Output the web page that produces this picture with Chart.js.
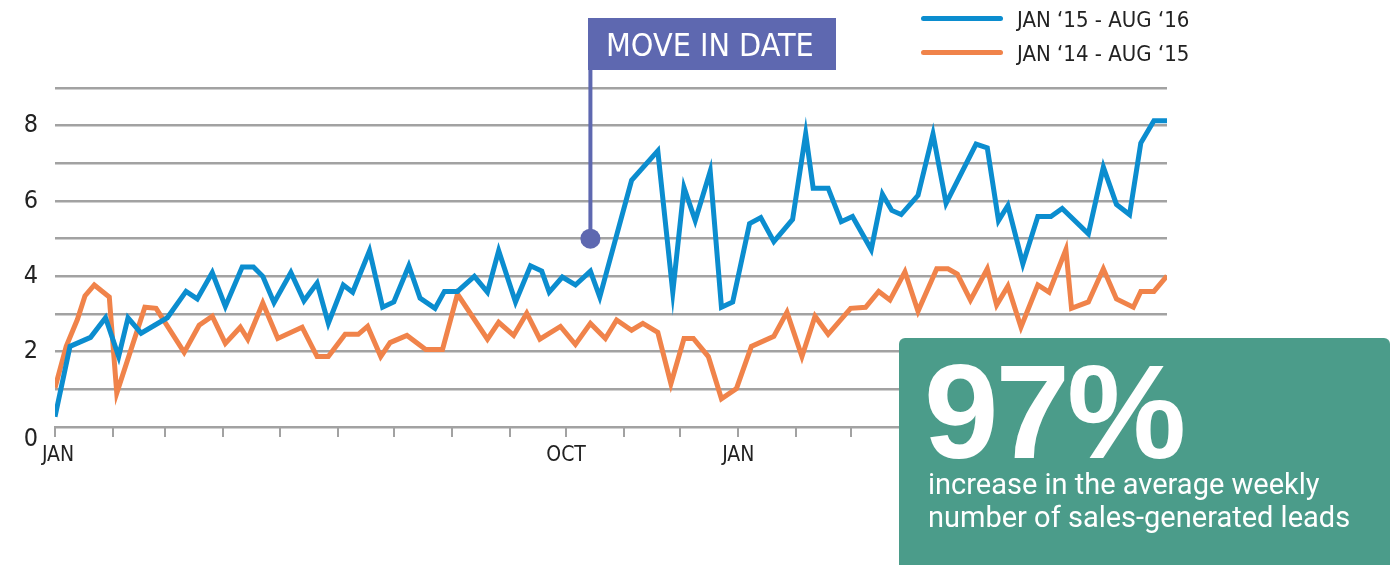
<!DOCTYPE html>
<html>
<head>
<meta charset="utf-8">
<title>Weekly sales-generated leads</title>
<script src="https://cdn.jsdelivr.net/npm/chart.js@4.4.1/dist/chart.umd.min.js"></script>
<style>
  body { margin: 0; background: #fff; }
  #wrap { position: relative; width: 1395px; height: 565px; overflow: hidden;
          font-family: 'Liberation Sans Narrow', 'DejaVu Sans Condensed', sans-serif; }
  #chart { position: absolute; left: 0; top: 0; }
  .leg-line { position: absolute; left: 921px; width: 82px; height: 5px; border-radius: 3px; }
  .leg-text { position: absolute; left: 1017px; font-size: 22px; line-height: 28px; color: #222; white-space: nowrap; }
  #movein { position: absolute; left: 588px; top: 18px; width: 248px; height: 52px; background: #5e68b0;
            color: #fff; font-size: 32px; line-height: 54px; padding-left: 18px; box-sizing: border-box; }
  #stat { position: absolute; left: 899px; top: 338px; width: 491px; height: 260px; background: #4b9c8a;
          border-radius: 6px; }
  #big { position: absolute; left: 924px; top: 345px; font-family: 'Liberation Sans', sans-serif; font-weight: bold;
         font-size: 134px; line-height: 134px; color: #fff; letter-spacing: -3px; }
  #sub { position: absolute; left: 928px; top: 468px; font-family: Roboto, sans-serif; font-size: 29px;
         line-height: 33px; color: #fff; white-space: nowrap; }
</style>
</head>
<body>
<div id="wrap">
  <canvas id="chart" width="1395" height="565"></canvas>
  <div id="legend"></div>
  <div id="movein">MOVE IN DATE</div>
  <div id="stat"></div>
  <div id="big">97%</div>
  <div id="sub">increase in the average weekly<br>number of sales-generated leads</div>
</div>
<script>
// days since 1 Jan
const seriesLabels = ['JAN \u201815 - AUG \u201816', 'JAN \u201814 - AUG \u201815'];
const seriesColors = ['#0b8dcf', '#f0834a'];

const blueDays = [0,8,19,27,34,39,46,60,70,76,84,91,100,106,111,117,126,133,140,146,
  154,159,168,175,181,189,195,203,208,215,224,231,237,246,254,260,264,271,278,286,
  291,308,322,330,336,342,350,356,362,371,377,384,394,401,405,413,420,426,436,442,
  447,452,461,469,476,492,498,504,509,517,525,532,538,552,560,567,574,580,587,594];
const blueValues = [0.27,2.14,2.38,2.9,1.87,2.9,2.49,2.9,3.6,3.4,4.1,3.2,4.25,4.25,4.0,3.3,4.1,3.35,3.82,2.75,
  3.77,3.58,4.68,3.18,3.32,4.28,3.42,3.15,3.6,3.6,4.0,3.58,4.68,3.32,4.28,4.14,3.58,3.98,3.77,4.14,
  3.45,6.55,7.33,3.58,6.36,5.48,6.79,3.18,3.32,5.4,5.56,4.92,5.51,7.78,6.34,6.34,5.45,5.59,4.71,6.18,
  5.75,5.64,6.15,7.78,5.94,7.51,7.41,5.48,5.88,4.33,5.59,5.59,5.8,5.13,6.9,5.91,5.64,7.54,8.13,8.13];

const orangeDays = [0,6,12,16,21,29,33,48,54,69,77,84,91,99,103,111,119,132,140,146,
  155,162,167,174,179,188,198,207,215,231,237,245,252,259,270,278,286,294,300,308,
  314,322,329,336,341,349,356,364,372,384,391,399,406,413,425,433,440,446,454,461,
  471,477,482,489,498,503,509,516,525,531,540,543,552,560,567,576,580,587,594];
const orangeValues = [1.04,2.14,2.86,3.48,3.77,3.45,0.9,3.18,3.15,1.98,2.7,2.94,2.22,2.65,2.33,3.29,2.35,2.65,1.87,1.87,
  2.46,2.46,2.67,1.87,2.24,2.43,2.06,2.06,3.53,2.33,2.78,2.43,3.02,2.33,2.67,2.19,2.75,2.35,2.84,2.57,
  2.75,2.51,1.15,2.35,2.35,1.87,0.75,1.02,2.14,2.41,3.05,1.87,2.94,2.46,3.15,3.18,3.6,3.37,4.12,3.07,
  4.2,4.2,4.06,3.37,4.2,3.24,3.74,2.65,3.77,3.58,4.71,3.15,3.32,4.2,3.4,3.18,3.6,3.6,4.01];

const moveInDay = 286;
const moveInValue = 5;

// month starts (day offsets) and the few that get a label
const monthStarts = [0,31,59,90,120,151,181,212,243,273,304,334,365,396,425,456,486,517,547,578];
const monthLabels = [' JAN','','','','','','','','','OCT','','','JAN','','','','','','',''];
// the zero label sits a bit under its gridline in the original, so give it an empty first line
const yLabels = [['', '0'],'','2','','4','','6','','8',''];

const GRID = '#a2a2a2';
const PURPLE = '#5e68b0';
const FONT = "'Liberation Sans Narrow', 'DejaVu Sans Condensed', sans-serif";

function toPoints(xs, ys) {
  return xs.map((x, i) => ({ x: x, y: ys[i] }));
}

// legend as html, line swatch + text
const legendEl = document.getElementById('legend');
seriesLabels.forEach((lab, i) => {
  const y = 18 + i * 34;
  legendEl.innerHTML += `<div class="leg-line" style="top:${y - 2}px;background:${seriesColors[i]}"></div>` +
    `<div class="leg-text" style="top:${y - 12}px">${lab}</div>`;
});

// vertical stem from the move-in dot up to the label box
const moveInStem = {
  id: 'moveInStem',
  beforeDatasetsDraw(chart) {
    const pt = chart.getDatasetMeta(2).data[0];
    if (!pt) return;
    const ctx = chart.ctx;
    ctx.save();
    ctx.strokeStyle = PURPLE;
    ctx.lineWidth = 4;
    ctx.beginPath();
    ctx.moveTo(pt.x, pt.y);
    ctx.lineTo(pt.x, 70);
    ctx.stroke();
    ctx.restore();
  }
};

new Chart(document.getElementById('chart'), {
  type: 'line',
  data: {
    datasets: [
      {
        label: seriesLabels[0],
        data: toPoints(blueDays, blueValues),
        borderColor: seriesColors[0],
        borderWidth: 5,
        pointRadius: 0,
        tension: 0
      },
      {
        label: seriesLabels[1],
        data: toPoints(orangeDays, orangeValues),
        borderColor: seriesColors[1],
        borderWidth: 5,
        pointRadius: 0,
        tension: 0
      },
      {
        label: 'Move in date',
        data: [{ x: moveInDay, y: moveInValue }],
        showLine: false,
        pointRadius: 10,
        pointBackgroundColor: PURPLE,
        pointBorderWidth: 0
      }
    ]
  },
  options: {
    responsive: false,
    animation: false,
    layout: { padding: { top: 88, right: 228, left: 0, bottom: 0 } },
    plugins: { legend: { display: false }, tooltip: { enabled: false } },
    scales: {
      x: {
        type: 'linear',
        min: 0,
        max: 594,
        afterFit: s => { s.height = 138; },
        afterBuildTicks: s => { s.ticks = monthStarts.map(v => ({ value: v })); },
        grid: { drawOnChartArea: false, drawTicks: true, tickLength: 10, tickColor: GRID, lineWidth: 2 },
        border: { display: true, color: GRID, width: 2 },
        ticks: {
          autoSkip: false, maxRotation: 0, padding: 6, color: '#222',
          font: { family: FONT, size: 21 },
          callback: (v, i) => monthLabels[i]
        }
      },
      y: {
        min: 0,
        max: 9,
        afterFit: s => { s.width = 55; },
        grid: { color: GRID, lineWidth: 2.5, drawTicks: false },
        border: { display: false },
        ticks: {
          stepSize: 1, autoSkip: false, padding: 17, color: '#222',
          font: { family: FONT, size: 25, lineHeight: 0.96 },
          callback: (v) => yLabels[v]
        }
      }
    }
  },
  plugins: [moveInStem]
});
</script>
</body>
</html>
